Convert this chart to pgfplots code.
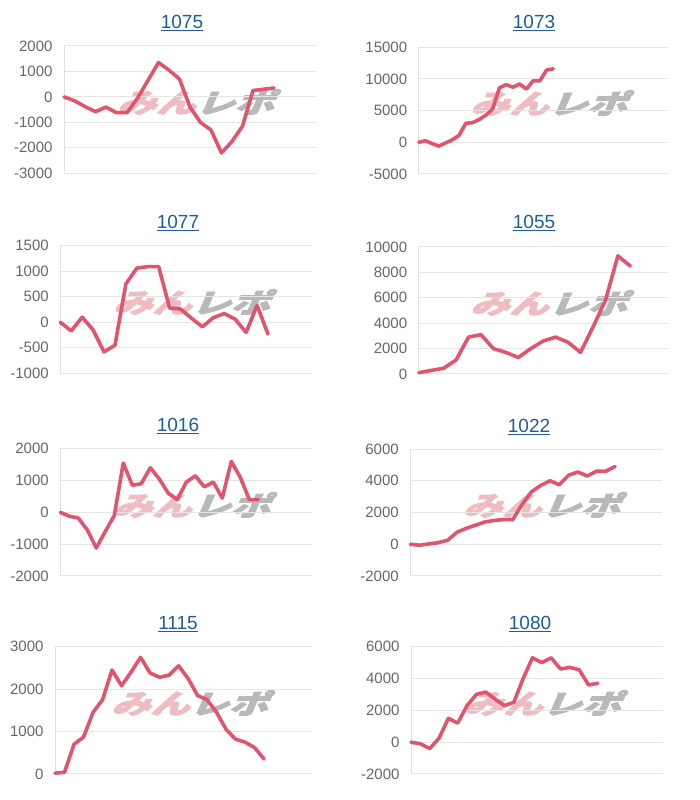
\documentclass[border=0pt]{standalone}
\usepackage{pgfplots}
\pgfplotsset{compat=1.18}
\usepackage{fontspec}
\setmainfont{Liberation Sans}
\newfontfamily\jpfont[BoldFeatures={FakeBold=3}]{Noto Sans CJK JP}
\definecolor{lc}{RGB}{226,84,110}
\definecolor{tc}{RGB}{30,92,160}
\definecolor{gc}{RGB}{102,102,102}
\definecolor{wmp}{RGB}{238,188,193}
\definecolor{wmg}{RGB}{185,185,185}
\pgfplotsset{
 panel/.style={
  scale only axis,
  anchor=south west,
  xmin=0,
  axis x line=none,
  axis y line*=left,
  y axis line style={draw=black!12, line width=1pt},
  xtick=\empty,
  ymajorgrids,
  major grid style={draw=black!10, line width=1pt},
  major tick length=0pt,
  yticklabel style={font=\fontsize{15}{15}\selectfont, text=gc, xshift=-8pt},
  /pgf/number format/1000 sep={},
  /pgf/number format/assume math mode=true,
  scaled y ticks=false,
  extra y ticks={0}, extra y tick labels={},
  extra y tick style={grid style={draw=black!35, line width=1pt}},
  clip=false,
  cycle list={{lc, mark=none}},
  every axis plot post/.append style={line width=3.6pt, line join=round, line cap=round},
 }
}
\newcommand{\wm}[1]{\begin{scope}[shift={#1}, xscale=1.45, xslant=0.3]\node[inner sep=0pt, transform shape] at (0pt,0pt) {\jpfont\bfseries\fontsize{27}{27}\selectfont\textcolor{wmp}{みん}\textcolor{wmg}{レポ}};\end{scope}}
\newcommand{\ttl}[1]{\textcolor{tc}{\fontsize{19}{19}\selectfont\underline{#1}}}
\begin{document}
\begin{tikzpicture}
\path[use as bounding box] (0pt,0pt) rectangle (700pt,800pt);
% watermarks (behind)
\wm{(200pt,698pt)}
\wm{(553pt,697pt)}
\wm{(196pt,498pt)}
\wm{(553pt,497pt)}
\wm{(196pt,295pt)}
\wm{(546pt,295pt)}
\wm{(194pt,97pt)}
\wm{(547pt,97pt)}
% titles
\node at (182pt,777pt) {\ttl{1075}};
\node at (534pt,777pt) {\ttl{1073}};
\node at (178pt,577pt) {\ttl{1077}};
\node at (534pt,577pt) {\ttl{1055}};
\node at (178pt,374pt) {\ttl{1016}};
\node at (529pt,373pt) {\ttl{1022}};
\node at (178pt,176pt) {\ttl{1115}};
\node at (530pt,176pt) {\ttl{1080}};

% 1075
\begin{axis}[panel, at={(64pt,626.7pt)}, width=252pt, height=127.3pt,
  xmax=24, ymin=-3000, ymax=2000, ytick distance=1000]
\addplot coordinates {(0,0) (1,-150) (2,-380) (3,-580) (4,-400) (5,-620) (6,-620) (7,-50) (8,650) (9,1350) (10,1050) (11,700) (12,-400) (13,-1000) (14,-1300) (15,-2200) (16,-1750) (17,-1150) (18,250) (19,300) (20,350)};
\end{axis}

% 1073
\begin{axis}[panel, at={(418.7pt,626pt)}, width=249pt, height=126.7pt,
  xmax=37, ymin=-5000, ymax=15000, ytick distance=5000]
\addplot coordinates {(0,0) (1,250) (2,-200) (3,-600) (4,-100) (5,400) (6,1100) (7,3000) (8,3100) (9,3600) (10,4300) (11,5300) (12,8600) (13,9100) (14,8700) (15,9200) (16,8400) (17,9700) (18,9700) (19,11400) (20,11600)};
\end{axis}

% 1077
\begin{axis}[panel, at={(60.3pt,426.7pt)}, width=251.4pt, height=127.6pt,
  xmax=23, ymin=-1000, ymax=1500, ytick distance=500]
\addplot coordinates {(0,0) (1,-170) (2,100) (3,-150) (4,-580) (5,-450) (6,750) (7,1060) (8,1090) (9,1090) (10,280) (11,260) (12,80) (13,-90) (14,90) (15,170) (16,60) (17,-200) (18,330) (19,-230)};
\end{axis}

% 1055
\begin{axis}[panel, at={(418.7pt,426pt)}, width=249pt, height=127pt,
  xmax=20, ymin=0, ymax=10000, ytick distance=2000]
\addplot coordinates {(0,100) (1,280) (2,450) (3,1100) (4,2900) (5,3100) (6,2000) (7,1700) (8,1300) (9,2000) (10,2600) (11,2900) (12,2500) (13,1700) (14,3700) (15,5800) (16,9300) (17,8500)};
\end{axis}

% 1016
\begin{axis}[panel, at={(60.3pt,224pt)}, width=252pt, height=127.3pt,
  xmax=28, ymin=-2000, ymax=2000, ytick distance=1000]
\addplot coordinates {(0,0) (1,-120) (2,-180) (3,-550) (4,-1120) (5,-600) (6,-100) (7,1550) (8,850) (9,900) (10,1400) (11,1050) (12,600) (13,400) (14,950) (15,1150) (16,800) (17,950) (18,450) (19,1600) (20,1100) (21,400) (22,400)};
\end{axis}

% 1022
\begin{axis}[panel, at={(410.3pt,224pt)}, width=251.4pt, height=127pt,
  xmax=27, ymin=-2000, ymax=6000, ytick distance=2000]
\addplot coordinates {(0,0) (1,-60) (2,20) (3,100) (4,250) (5,750) (6,1000) (7,1200) (8,1400) (9,1500) (10,1550) (11,1550) (12,2500) (13,3300) (14,3700) (15,4000) (16,3750) (17,4350) (18,4550) (19,4300) (20,4600) (21,4600) (22,4900)};
\end{axis}

% 1115
\begin{axis}[panel, at={(55pt,26pt)}, width=256.7pt, height=127.3pt,
  xmax=27, ymin=0, ymax=3000, ytick distance=1000]
\addplot coordinates {(0,20) (1,40) (2,700) (3,870) (4,1450) (5,1750) (6,2450) (7,2080) (8,2400) (9,2750) (10,2380) (11,2280) (12,2330) (13,2550) (14,2250) (15,1850) (16,1750) (17,1450) (18,1050) (19,820) (20,750) (21,620) (22,350)};
\end{axis}

% 1080
\begin{axis}[panel, at={(411pt,26pt)}, width=252.3pt, height=127.3pt,
  xmax=27, ymin=-2000, ymax=6000, ytick distance=2000]
\addplot coordinates {(0,0) (1,-100) (2,-400) (3,250) (4,1500) (5,1200) (6,2300) (7,3000) (8,3150) (9,2700) (10,2300) (11,2500) (12,4000) (13,5300) (14,5000) (15,5300) (16,4600) (17,4700) (18,4550) (19,3600) (20,3700)};
\end{axis}
\end{tikzpicture}
\end{document}
